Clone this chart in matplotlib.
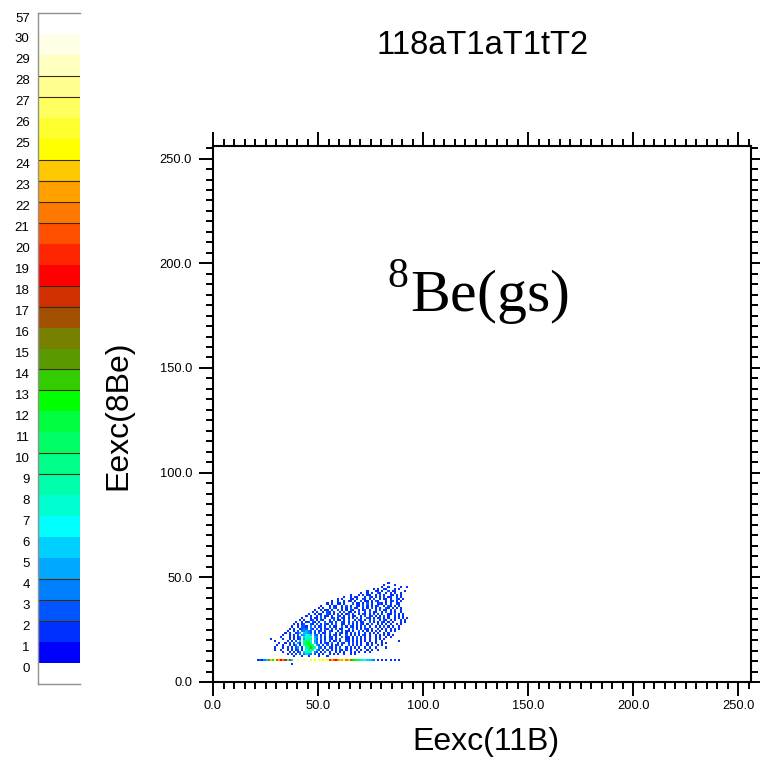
import numpy as np
import matplotlib
matplotlib.use("Agg")
import matplotlib.pyplot as plt
from matplotlib.colors import ListedColormap, BoundaryNorm
from matplotlib.ticker import MultipleLocator, FormatStrFormatter
from matplotlib.transforms import ScaledTranslation

plt.rcParams["font.family"] = ["Liberation Sans", "DejaVu Sans"]
plt.rcParams["mathtext.fontset"] = "custom"
plt.rcParams["mathtext.rm"] = "Liberation Serif"

title = "118aT1aT1tT2"
x_label = "Eexc(11B)"
y_label = "Eexc(8Be)"
tag = r"$^{8}$Be(gs)"

# contour levels of the palette; colour k covers counts in [k, k+1)
levels = list(range(31)) + [57]
level_colors = [
    "#0000ff", "#0030ff", "#0055ff", "#0080ff", "#00a8ff", "#00d0ff",
    "#00ffff", "#00ffd0", "#00ffaa", "#00ff88", "#00ff66", "#00ff40",
    "#00ff00", "#33cc00", "#5a9a00", "#788000", "#a05000", "#d03000",
    "#ff0000", "#ff2500", "#ff5000", "#ff7800", "#ffa000", "#ffc800",
    "#ffff00", "#ffff30", "#ffff60", "#ffff90", "#ffffc0", "#ffffe8",
    "#ffffff",
]
# boundaries that show a dark line in the palette strip
sep_levels = [2, 3, 4, 9, 10, 13, 14, 17, 18, 21, 22, 23, 24, 27, 28]

# binning: 256 channels of 1 unit on each axis
nbins = 256

# 2D counts, one row per Eexc(8Be) channel: (y, first x channel, counts)
# '.' = empty, other characters are base-36 counts
rows = [
    (47, 83, "1"),
    (46, 81, "1....1"),
    (45, 80, "1..1.....1..1"),
    (44, 76, "1.1..11...1.1"),
    (43, 73, "1...11.1..2.11....1"),
    (42, 70, "1..1.1..21..1.1.1..1"),
    (41, 65, "1...1.1.11..1.2.1..11.1.1"),
    (40, 62, "1..1.11...1.21.1.1.2.11..1.1"),
    (39, 59, "1.1...11.1..21.1.2..1.11.1..21.1"),
    (38, 56, "1..1..1.11.1..2.11.1.21...1.12.1.1"),
    (37, 54, "1.1..11.1...2.11.1.2.1..121.1.1..11"),
    (36, 51, "1...1.11..1.2.1..11.2.1.1.12..1.21.1.1"),
    (35, 50, "1.1..1.21..1.1.2.11..1.1.2.1.1..21.1.1.1"),
    (34, 48, "1..1.11.1..2.1.1.21..1.12.1..1.2.11.1.2..1"),
    (33, 47, "1.1..1.21.1..1.2.11.1.2..1.2.11..1.2.1.1..1"),
    (32, 45, "1..1.11..21.1.2.1.12.1..1.21.1.1.2.1..11.2.1.1"),
    (31, 44, "1.1..1.2.11.1..21.1.2.11..1.2.12.1.1.2.1..1.1.1"),
    (30, 42, "1...1.11.2.1..12.1.21.1.1.2.1..21.1.12.1.1..1.1.1.1"),
    (29, 41, "1.1..12.1.21..1.2.11.1.2..1.21.1.1.2..1.21.1.1..1.1"),
    (28, 39, "1..1.12.21.1..2.12.1..21.1.2.1.11..2.1.1.21.1.1...1.1"),
    (27, 38, "1.1.12..21.2.1.21.1.2..11.2.1.1.21.1.2..1.1.1.1..1.1"),
    (26, 37, "1..1.221.3.2.12.1.2.11..2.1.21.1.1.2.1..1.1.2.1.1..1"),
    (25, 36, "1.1..1232.31.2.1.21.1.2.11..1.2.1.1.21.1..1.1.1.1.1.1"),
    (24, 35, "1..1.2.33432.2.12.1.21..1.2.11.1..2.1.1.1.1.1..1.1.1"),
    (23, 34, "1.1..124.5432.1.2.11.2..1.21.1.1.2.1..1.1.1.1..1.1"),
    (22, 33, "1..1.1.2.34675.32.1.2.1.21.1..2.1.1.1.21.1..1.1.1.1.1"),
    (21, 32, "1...1.1.13.5786.43.2.1.12.1..2.11.1.2.1.1.1..1.1..1.1"),
    (20, 27, "1.....1..1.1.12.4799.52.2.1.21.1.2..11.1.2.1.1.1..1.1.1"),
    (19, 29, "1.....1.1.2.5.8aa7.43.1.2.1.12.1..21.1.1.1.1.1..1..1.......1"),
    (18, 31, "1..1.1.2.41.9bc8.52.1.21.2..1.21.1.2.1.1..1.1.1..1.1"),
    (17, 30, "1..1..1.13.1.7acb9.42.1.2.1.12.1..2.1.1.1..1.1..1.1"),
    (16, 29, "1...1.1.1.24.1.8bda7.32.1.21.1.2..1.1.1.1..1.1..1....1"),
    (15, 29, "1..1..1.1.12.1.6a98.42.1.2.1.1.21.1.1..1.1..1.1..1"),
    (14, 33, "1..1.1.13.5876.32.1.2.1..1.1.1..1.1.1..1.1"),
    (13, 35, "1.1.1.2.3543.2.1.1..1.1.1..1..1.1"),
    (12, 38, "1...1..1....1...1"),
    (8, 37, "1"),
]

# ground-state band in the y = 10 channel, x = 21 .. 88
strip_y = 10
strip_x0 = 21
strip_counts = [
    1, 2, 1, 3, 5, 14, 23, 12, 25, 20, 22, 18, 21, 17, 6, 16, 5, 28, 30, 27,
    34, 29, 26, 29, 57, 25, 28, 24, 29, 25, 26, 24, 27, 25, 19, 22, 20, 18,
    21, 23, 22, 24, 21, 23, 14, 13, 12, 11, 10, 9, 7, 6, 5, 5, 4, 3, 0, 1,
    0, 1, 0, 1, 0, 1, 0, 1, 0, 1,
]

counts = np.zeros((nbins, nbins))
for y, x0, pattern in rows:
    for i, ch in enumerate(pattern):
        if ch != ".":
            counts[y, x0 + i] = int(ch, 36)
for i, c in enumerate(strip_counts):
    counts[strip_y, strip_x0 + i] = c

cmap = ListedColormap(level_colors)
cmap.set_over("white")
norm = BoundaryNorm(levels, cmap.N)

fig = plt.figure(figsize=(7.6, 7.65), dpi=100)
W, H = 760, 765

# main histogram
ax = fig.add_axes([213 / W, 1 - 682 / H, 538 / W, 536 / H])
edges = np.arange(nbins + 1)
ax.pcolormesh(edges, edges, np.ma.masked_equal(counts, 0), cmap=cmap,
              norm=norm, antialiased=False, edgecolors="none")
ax.set_xlim(0, nbins)
ax.set_ylim(0, nbins)
for a in (ax.xaxis, ax.yaxis):
    a.set_major_locator(MultipleLocator(50))
    a.set_minor_locator(MultipleLocator(5))
    a.set_major_formatter(FormatStrFormatter("%.1f"))
ax.tick_params(which="both", direction="out", top=True, right=True,
               labeltop=False, labelright=False, width=1.4, labelsize=9.3)
ax.tick_params(which="major", length=10)
ax.tick_params(which="minor", length=5)
ax.tick_params(axis="x", pad=3)
ax.tick_params(axis="y", pad=5)
for s in ax.spines.values():
    s.set_linewidth(1.5)

ax.text(126, 186, tag, fontsize=43, family="Liberation Serif",
        ha="center", va="center")

fig.text(483 / W, 1 - 45 / H, title, fontsize=23.5, ha="center", va="center")
fig.text(486 / W, 1 - 742 / H, x_label, fontsize=23, ha="center", va="center")
fig.text(118 / W, 1 - 415 / H, y_label, fontsize=23, ha="center",
         va="center", rotation=90)

# palette strip: white below 0, one band per level, white from 30 to 57
cax = fig.add_axes([38 / W, 1 - 684 / H, 42 / W, 671 / H])
seg_colors = ["white"] + level_colors
nseg = len(seg_colors)
cax.bar(0.5, 1, bottom=np.arange(nseg), width=1, color=seg_colors,
        linewidth=0)
cax.hlines([lv + 1 for lv in sep_levels], 0, 1, color="#3a2a10", lw=0.8)
cax.set_xlim(0, 1)
cax.set_ylim(0, nseg)
cax.set_xticks([])
cax.set_yticks(np.arange(1, nseg + 1))
cax.set_yticklabels([str(v) for v in levels])
cax.tick_params(axis="y", length=0, pad=6, labelsize=9.5)
shift = ScaledTranslation(0, -4 / 100, fig.dpi_scale_trans)
for lbl in cax.get_yticklabels():
    lbl.set_transform(lbl.get_transform() + shift)
cax.spines["right"].set_visible(False)
for k in ("left", "top", "bottom"):
    cax.spines[k].set_color("#909090")
    cax.spines[k].set_linewidth(1.0)

fig.savefig("out.png", dpi=100)
